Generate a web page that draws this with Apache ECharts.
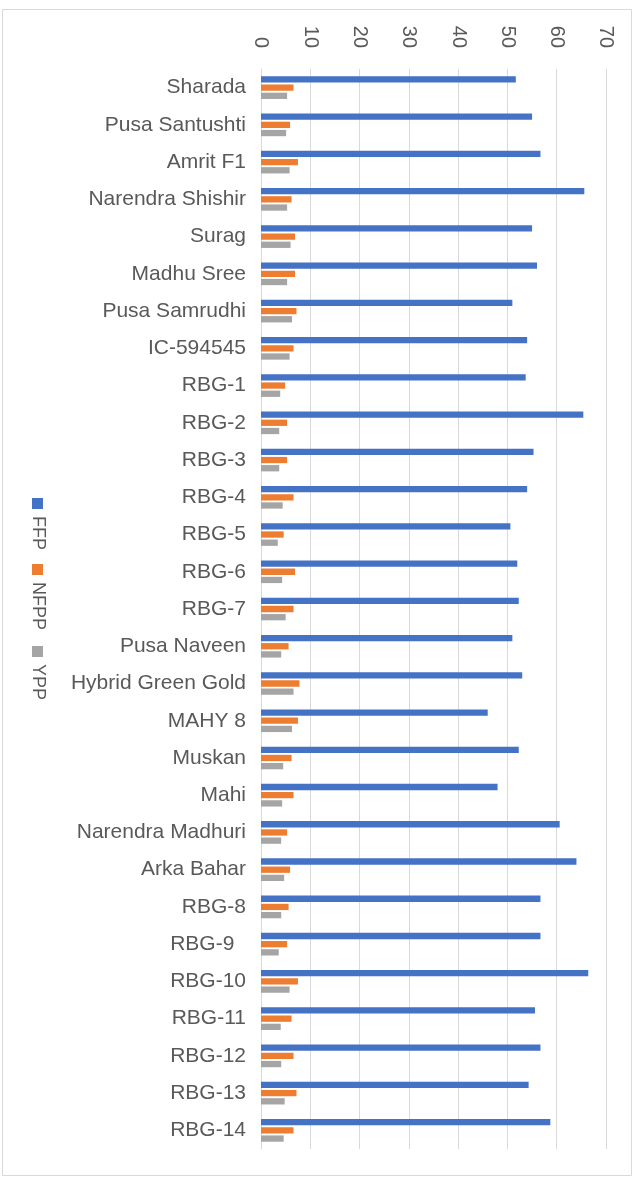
<!DOCTYPE html>
<html>
<head>
<meta charset="utf-8">
<title>FFP / NFPP / YPP</title>
<script src="https://cdn.jsdelivr.net/npm/echarts@6/dist/echarts.min.js"></script>
<style>
  html, body { margin: 0; padding: 0; background: #fff; }
  #chart { width: 634px; height: 1177px; }
</style>
</head>
<body>
<div id="chart"></div>
<script>
// genotypes, top to bottom
const categories = [
  "Sharada", "Pusa Santushti", "Amrit F1", "Narendra Shishir", "Surag",
  "Madhu Sree", "Pusa Samrudhi", "IC-594545", "RBG-1", "RBG-2", "RBG-3",
  "RBG-4", "RBG-5", "RBG-6", "RBG-7", "Pusa Naveen", "Hybrid Green Gold",
  "MAHY 8", "Muskan", "Mahi", "Narendra Madhuri", "Arka Bahar", "RBG-8",
  "RBG-9  ", "RBG-10", "RBG-11", "RBG-12", "RBG-13", "RBG-14"
];
const ffp = [
  51.7, 55.0, 56.7, 65.6, 55.0, 56.0, 51.0, 54.0, 53.7, 65.4, 55.3,
  54.0, 50.6, 52.0, 52.3, 51.0, 53.0, 46.0, 52.3, 48.0, 60.6, 64.0,
  56.7, 56.7, 66.4, 55.6, 56.7, 54.3, 58.7
];
const nfpp = [
  6.6, 5.9, 7.5, 6.2, 6.9, 6.9, 7.2, 6.6, 4.9, 5.3, 5.3,
  6.6, 4.6, 6.9, 6.6, 5.6, 7.8, 7.5, 6.2, 6.6, 5.3, 5.9,
  5.6, 5.3, 7.5, 6.2, 6.6, 7.2, 6.6
];
const ypp = [
  5.3, 5.1, 5.8, 5.3, 6.0, 5.3, 6.3, 5.8, 3.9, 3.7, 3.7,
  4.4, 3.4, 4.3, 5.0, 4.1, 6.6, 6.3, 4.5, 4.3, 4.1, 4.7,
  4.1, 3.6, 5.8, 4.0, 4.1, 4.8, 4.6
];
const seriesNames = ["FFP", "NFPP", "YPP"];
const valueTicks = [0, 10, 20, 30, 40, 50, 60, 70];

const colors = ["#4472c4", "#ed7d31", "#a5a5a5"];
const textColor = "#595959";
const font = "Liberation Sans";

let chart = echarts.init(document.getElementById("chart"), null, { renderer: "canvas" });

// legend drawn by hand, the text runs top to bottom
const legendTops = [498, 564, 646];
let legendItems = [];
seriesNames.forEach((name, i) => {
  legendItems.push({
    type: "rect",
    shape: { x: 32, y: legendTops[i], width: 11, height: 11 },
    style: { fill: colors[i] }
  });
  legendItems.push({
    type: "text",
    x: 37.5,
    y: legendTops[i] + 18,
    rotation: -Math.PI / 2,
    style: {
      text: name,
      fill: textColor,
      font: "18px '" + font + "'",
      align: "left",
      verticalAlign: "middle"
    }
  });
});

chart.setOption({
  animation: false,
  color: colors,
  textStyle: { fontFamily: font },
  grid: { left: 261, right: 28, top: 69, bottom: 28, containLabel: false },
  legend: { show: false },
  graphic: [
    {
      type: "rect",
      shape: { x: 2.5, y: 9.5, width: 629, height: 1166 },
      style: { fill: "none", stroke: "#d9d9d9", lineWidth: 1 },
      z: -1
    }
  ].concat(legendItems),
  xAxis: {
    type: "value",
    position: "top",
    min: valueTicks[0],
    max: valueTicks[valueTicks.length - 1],
    interval: valueTicks[1] - valueTicks[0],
    axisLine: { show: false },
    axisTick: { show: false },
    splitLine: { lineStyle: { color: "#d9d9d9", width: 1 } },
    axisLabel: {
      rotate: 90,
      margin: 21,
      color: textColor,
      fontSize: 20,
      fontFamily: font
    }
  },
  yAxis: {
    type: "category",
    inverse: true,
    data: categories,
    axisLine: { show: true, lineStyle: { color: "#d9d9d9" } },
    axisTick: { show: false },
    axisLabel: {
      margin: 15,
      color: textColor,
      fontSize: 21,
      fontFamily: font
    }
  },
  series: [
    { name: seriesNames[0], type: "bar", data: ffp, barWidth: 6.3, barGap: "30%" },
    { name: seriesNames[1], type: "bar", data: nfpp, barWidth: 6.3, barGap: "30%" },
    { name: seriesNames[2], type: "bar", data: ypp, barWidth: 6.3, barGap: "30%" }
  ]
});
</script>
</body>
</html>
